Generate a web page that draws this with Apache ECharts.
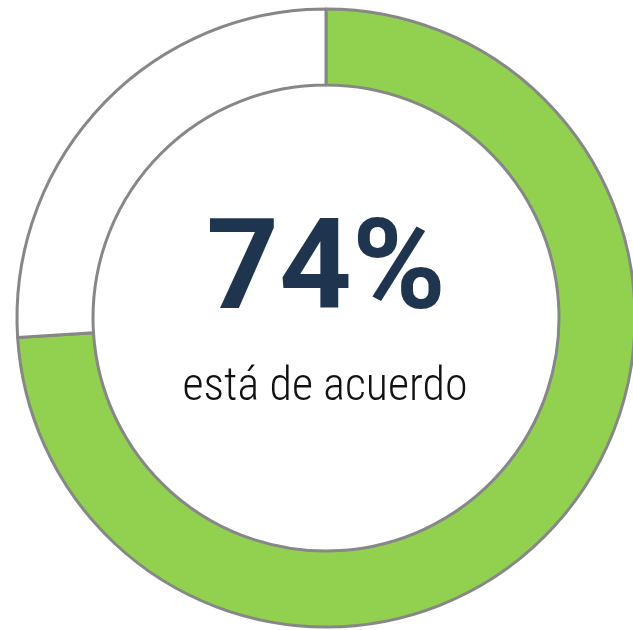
<!DOCTYPE html>
<html>
<head>
<meta charset="utf-8">
<script src="https://cdn.jsdelivr.net/npm/echarts@6/dist/echarts.min.js"></script>
<style>
  html, body { margin: 0; padding: 0; background: #fff; }
  #chart { width: 633px; height: 630px; }
</style>
</head>
<body>
<div id="chart"></div>
<script>
// datos
var categories = ["De acuerdo", "Resto"];
var values = [74, 26];
var colors = ["#92d050", "#ffffff"];
var bigLabel = "74%";
var subLabel = "está de acuerdo";

var chart = echarts.init(document.getElementById("chart"));

var option = {
  animation: false,
  series: [
    {
      type: "pie",
      center: [326, 318],
      radius: [233, 309],
      startAngle: 90,
      clockwise: true,
      silent: true,
      label: { show: false },
      labelLine: { show: false },
      itemStyle: {
        borderColor: "#878787",
        borderWidth: 3
      },
      data: categories.map(function (c, i) {
        return { name: c, value: values[i], itemStyle: { color: colors[i] } };
      })
    }
  ],
  graphic: [
    {
      type: "text",
      x: 326,
      y: 276,
      style: {
        text: bigLabel,
        font: "bold 127px Roboto",
        fill: "#1f344f",
        align: "center",
        verticalAlign: "middle"
      }
    },
    {
      type: "text",
      x: 325,
      y: 388,
      style: {
        text: subLabel,
        font: "300 46px 'Roboto Condensed', 'Liberation Sans Narrow', Roboto",
        fill: "#111",
        align: "center",
        verticalAlign: "middle"
      }
    }
  ]
};

chart.setOption(option);
</script>
</body>
</html>
